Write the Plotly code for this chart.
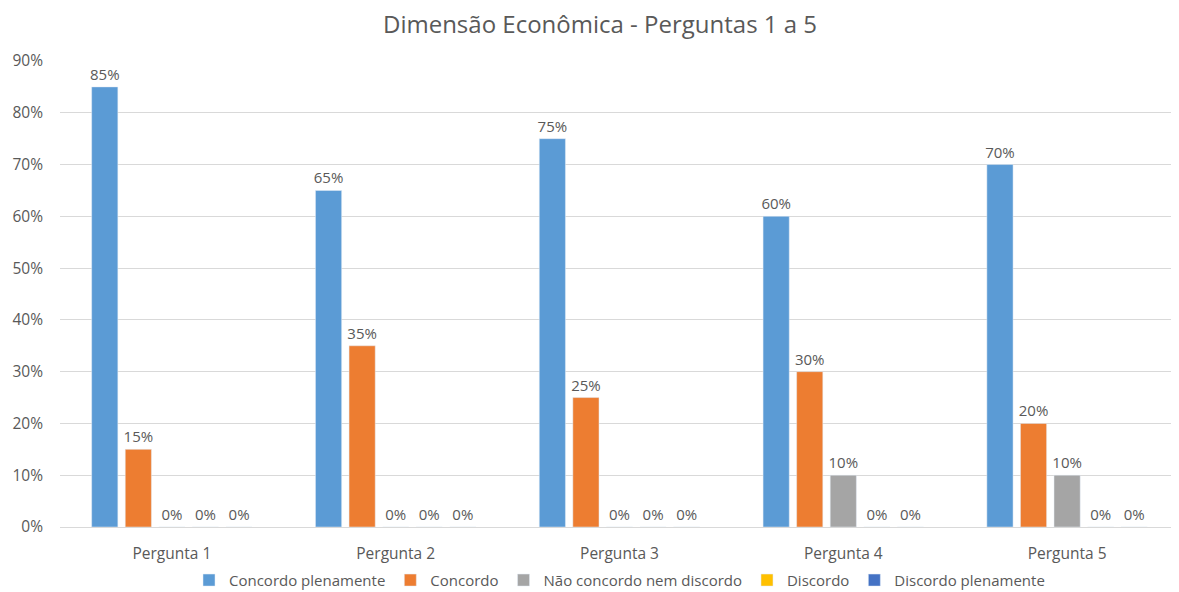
import plotly.graph_objects as go

categories = ["Pergunta 1", "Pergunta 2", "Pergunta 3", "Pergunta 4", "Pergunta 5"]
series_names = ["Concordo plenamente", "Concordo", "Não concordo nem discordo", "Discordo", "Discordo plenamente"]
concordo_plenamente = [0.85, 0.65, 0.75, 0.60, 0.70]
concordo = [0.15, 0.35, 0.25, 0.30, 0.20]
nao_concordo_nem_discordo = [0.0, 0.0, 0.0, 0.10, 0.10]
discordo = [0.0, 0.0, 0.0, 0.0, 0.0]
discordo_plenamente = [0.0, 0.0, 0.0, 0.0, 0.0]
y_ticks = [0, 0.1, 0.2, 0.3, 0.4, 0.5, 0.6, 0.7, 0.8, 0.9]

colors = ["#5B9BD5", "#ED7D31", "#A5A5A5", "#FFC000", "#4472C4"]
values = [concordo_plenamente, concordo, nao_concordo_nem_discordo, discordo, discordo_plenamente]

fig = go.Figure()
for name, vals, col in zip(series_names, values, colors):
    fig.add_trace(go.Bar(
        name=name, x=categories, y=vals, marker_color=col,
        texttemplate="%{y:.0%}", textposition="outside", cliponaxis=False,
        constraintext="none",
        textfont=dict(size=15, color="#595959", family="Open Sans"),
    ))

fig.update_layout(
    width=1171, height=584,
    paper_bgcolor="white", plot_bgcolor="white",
    margin=dict(l=52, r=0, t=53, b=65, autoexpand=False),
    barmode="group", bargap=0.25, bargroupgap=0.22,
    title=dict(text="Dimensão Econômica - Perguntas 1 a 5", x=0.4826, xanchor="center",
               xref="paper", yref="container", y=0.971, yanchor="middle",
               font=dict(size=24, color="#595959", family="Open Sans")),
    font=dict(family="Open Sans", color="#595959", size=15),
    showlegend=True,
    legend=dict(orientation="h", x=0.5, xanchor="center", yref="container", y=0.02,
                yanchor="middle", font=dict(size=15, color="#595959"),
                itemwidth=30, traceorder="normal", bgcolor="rgba(0,0,0,0)"),
)
fig.update_yaxes(range=[0, 0.9], tickvals=y_ticks, tickformat=".0%", showgrid=True,
                 gridcolor="#D9D9D9", zeroline=False, showline=False, automargin=False,
                 tickfont=dict(size=15.5, color="#595959"), ticklabelstandoff=16)
fig.update_xaxes(showline=True, linecolor="#D9D9D9", tickfont=dict(size=15.5, color="#595959"),
                 ticks="", ticklabelstandoff=12, automargin=False)

fig.write_html("out.html")
